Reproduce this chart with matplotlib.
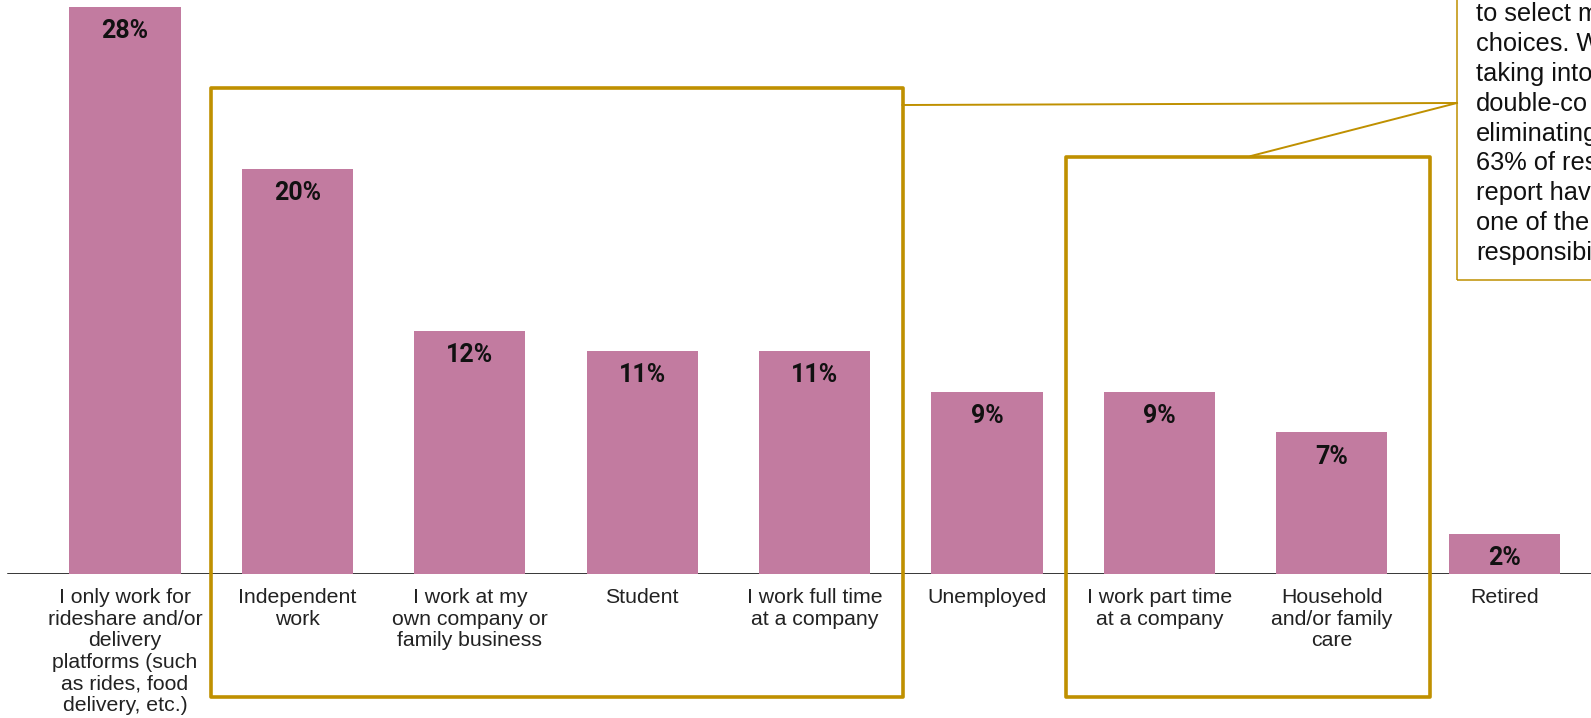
import numpy as np
import matplotlib
matplotlib.use("Agg")
import matplotlib.pyplot as plt
from matplotlib.patches import Rectangle

# chart data
categories = [
    "I only work for\nrideshare and/or\ndelivery\nplatforms (such\nas rides, food\ndelivery, etc.)",
    "Independent\nwork",
    "I work at my\nown company or\nfamily business",
    "Student",
    "I work full time\nat a company",
    "Unemployed",
    "I work part time\nat a company",
    "Household\nand/or family\ncare",
    "Retired",
]
shares = [28, 20, 12, 11, 11, 9, 9, 7, 2]
note_lines = [
    "to select m",
    "choices. W",
    "taking into",
    "double-co",
    "eliminating",
    "63% of res",
    "report hav",
    "one of the",
    "responsibi",
]

BAR = "#c27ba0"
GOLD = "#bf9000"
W, H = 1591, 718

fig = plt.figure(figsize=(W / 100, H / 100), dpi=100)
ax = fig.add_axes([0, 144 / H, 1, 574 / H])

x = np.arange(len(shares))
ax.bar(x, shares, width=0.644, color=BAR, zorder=2)
ax.set_xlim(-125 / 172.4, (W - 125) / 172.4)
ax.set_ylim(0, 574 / 20.25)
ax.axhline(0, xmin=8 / W, xmax=1, color="black", lw=1.1, zorder=1)

for xi, v in zip(x, shares):
    ax.annotate(f"{v}%", (xi, v), xytext=(0, -22.5), textcoords="offset points",
                ha="center", va="baseline", fontsize=18, fontweight="bold",
                family="Roboto", color="#111111", zorder=3)

ax.set_xticks(x, categories)
ax.tick_params(axis="x", length=0, pad=10)
for t in ax.get_xticklabels():
    t.set_family("Liberation Sans")
    t.set_fontsize(15.3)
    t.set_color("#222222")
    t.set_linespacing(1.18)
ax.set_yticks([])
for s in ax.spines.values():
    s.set_visible(False)

# highlight boxes around groups of bars
for x0, x1, top in [(0.5, 4.51, 24.0), (5.46, 7.57, 20.6)]:
    ax.add_patch(Rectangle((x0, -6.07), x1 - x0, top + 6.07, fill=False,
                           ec=GOLD, lw=2.6, joinstyle="round", clip_on=False, zorder=4))

# note box (cut off at the figure edge)
ax.add_patch(Rectangle((7.726, 14.52), 3.0, 20, fill=False, ec=GOLD, lw=1.1,
                       clip_on=False, zorder=4))
ax.text(7.836, 15.5, "\n".join(note_lines), ha="left", va="baseline",
        family="Liberation Sans", fontsize=18.3, color="#111111",
        linespacing=1.31, clip_on=False)

# leader lines from the groups to the note
ax.plot([4.51, 7.726], [23.16, 23.26], color=GOLD, lw=1.4, clip_on=False, zorder=4)
ax.plot([6.53, 7.726], [20.64, 23.26], color=GOLD, lw=1.4, clip_on=False, zorder=4)

fig.savefig("out.png", dpi=100)
